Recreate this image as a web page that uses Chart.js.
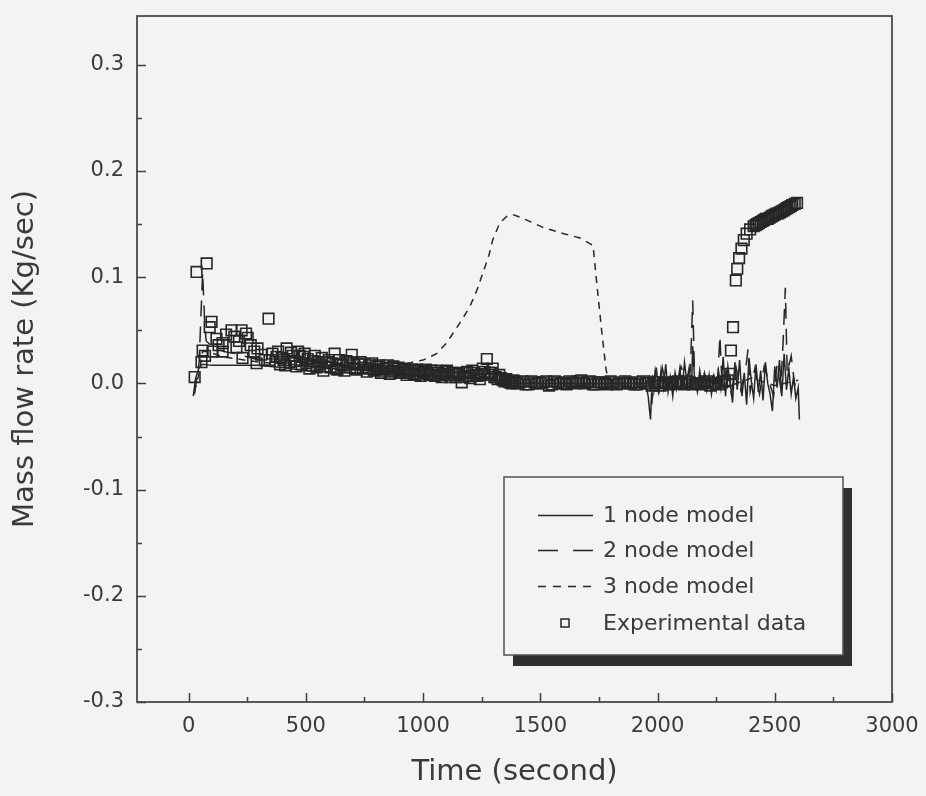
<!DOCTYPE html>
<html>
<head>
<meta charset="utf-8">
<title>Mass flow rate</title>
<script src="https://cdn.jsdelivr.net/npm/chart.js@4.4.1/dist/chart.umd.min.js"></script>
<style>
  html, body { margin: 0; padding: 0; background: #f3f3f1; }
  #wrap { width: 926px; height: 796px; }
</style>
</head>
<body>
<div id="wrap"><canvas id="c" width="926" height="796"></canvas></div>
<script>
// Axis ticks
const timeTicks = [0, 500, 1000, 1500, 2000, 2500, 3000];
const flowTicks = [-0.3, -0.2, -0.1, 0.0, 0.1, 0.2, 0.3];

// 1 node model
const oneNodeTime = [20, 30, 45, 60, 100, 200, 300, 350, 400, 500, 600, 700, 800, 900, 1000, 1100, 1200, 1300, 1350, 1400, 1600, 1800, 1950,
  1960, 1970, 1978, 1985, 1995, 2005, 2015, 2025, 2035, 2045, 2055, 2065, 2075, 2085, 2095, 2105, 2115, 2125, 2135, 2145, 2150, 2158,
  2170, 2180, 2190, 2200, 2210, 2220, 2230, 2240, 2250, 2260, 2270, 2280, 2290, 2300, 2310, 2320, 2330, 2340, 2350, 2360, 2370, 2380,
  2390, 2400, 2410, 2420, 2430, 2440, 2450, 2460, 2470, 2480, 2490, 2500, 2510, 2520, 2530, 2540, 2550, 2560, 2570, 2580, 2590, 2600, 2605];
const oneNodeFlow = [-0.012, 0.005, 0.015, 0.018, 0.017, 0.017, 0.017, 0.016, 0.015, 0.012, 0.011, 0.010, 0.009, 0.008, 0.007, 0.006, 0.005, 0.004, 0.001, 0.000, 0.000, 0.000, 0.000,
  -0.012, -0.034, 0.008, -0.006, 0.015, -0.010, 0.012, -0.004, 0.018, -0.008, 0.006, -0.012, 0.010, -0.002, 0.014, -0.006, 0.020, 0.002, 0.015, -0.004, 0.035, 0.004,
  -0.008, 0.012, -0.003, 0.009, -0.006, 0.008, -0.010, 0.005, -0.006, 0.012, -0.004, 0.025, -0.012, 0.016, 0.000, -0.018, 0.020, -0.006, 0.022, -0.012, 0.010, -0.020,
  0.024, 0.002, -0.014, 0.018, -0.008, 0.012, -0.016, 0.020, 0.000, -0.010, -0.026, 0.016, -0.004, 0.022, -0.012, 0.028, -0.006, 0.014, -0.010, 0.006, -0.014, -0.004, -0.034];

// 2 node model
const twoNodeTime = [25, 45, 60, 68, 75, 100, 150, 200, 300, 400, 500, 600, 700, 800, 900, 1000, 1100, 1200, 1300, 1400, 1500, 1700, 1950,
  1965, 1975, 1990, 2005, 2020, 2040, 2060, 2080, 2100, 2120, 2140, 2150, 2158, 2180, 2200, 2220, 2240, 2255, 2266, 2275, 2295, 2315,
  2335, 2355, 2375, 2386, 2395, 2415, 2435, 2455, 2475, 2495, 2510, 2525, 2535, 2545, 2553, 2570, 2585, 2600];
const twoNodeFlow = [-0.010, 0.020, 0.105, 0.060, 0.040, 0.035, 0.030, 0.028, 0.022, 0.020, 0.016, 0.014, 0.013, 0.011, 0.010, 0.008, 0.007, 0.006, 0.005, 0.002, 0.000, 0.000, 0.000,
  0.010, -0.020, 0.012, -0.008, 0.015, -0.005, 0.012, -0.006, 0.016, 0.004, 0.012, 0.078, 0.006, -0.004, 0.010, -0.006, 0.008, -0.004, 0.045, 0.000, 0.012, -0.010,
  0.015, -0.006, 0.012, 0.032, -0.008, 0.014, -0.010, 0.016, 0.002, -0.012, 0.018, -0.004, 0.036, 0.090, 0.010, 0.026, -0.002, 0.008];

// 3 node model
const threeNodeTime = [25, 45, 60, 80, 150, 300, 500, 700, 850, 956, 1000, 1058, 1100, 1127, 1160, 1199, 1230, 1255, 1280, 1297, 1327, 1360, 1383,
  1420, 1511, 1600, 1669, 1725, 1741, 1763, 1780, 1790, 1850, 1950, 2000, 2100, 2200, 2300, 2400, 2500, 2600];
const threeNodeFlow = [-0.008, 0.010, 0.030, 0.030, 0.025, 0.020, 0.017, 0.015, 0.014, 0.020, 0.022, 0.028, 0.038, 0.047, 0.058, 0.072, 0.088, 0.104, 0.120, 0.135, 0.151, 0.158, 0.159,
  0.156, 0.147, 0.141, 0.137, 0.130, 0.094, 0.047, 0.014, 0.003, 0.000, 0.000, 0.003, -0.002, 0.004, -0.003, 0.005, -0.002, 0.003];

// Experimental data
const expTime = [26, 34, 77, 98, 90, 55, 60, 70, 102, 119, 128, 145, 145, 160, 183, 195, 204, 215, 226, 230, 245, 252, 265, 280, 290, 294,
  310, 325, 341, 345, 358, 375, 390, 405, 418, 430, 445, 460, 474, 487, 503, 515, 530, 546, 560, 575, 590, 605, 623, 635, 650, 665,
  680, 696, 710, 725, 743, 760, 775, 790, 805, 820, 835, 850, 865, 888, 900, 915, 930, 945, 960, 975, 990, 1005, 1020, 1035, 1050,
  1065, 1080, 1095, 1110, 1125, 1140, 1155, 1165, 1180, 1195, 1210, 1225, 1242, 1255, 1272, 1285, 1297, 1310, 1325, 1340, 1355,
  1370, 1385, 1400, 1425, 1450, 1475, 1500, 1525, 1550, 1575, 1600, 1625, 1650, 1675, 1700, 1725, 1750, 1775, 1800, 1825, 1850,
  1875, 1900, 1925, 1950, 1975, 2000, 2025, 2050, 2075, 2100, 2125, 2150, 2175, 2200, 2225, 2250, 2275, 2300, 2310, 2313, 2322,
  2334, 2340, 2348, 2358, 2368, 2380, 2395, 2410, 2425, 2440, 2455, 2470, 2485, 2500, 2515, 2530, 2545, 2560, 2575, 2595,
  382, 397, 412, 437, 452, 467, 482, 495, 508, 522, 538, 553, 568, 583, 598, 613, 628, 643, 658, 673, 688, 703, 718, 733,
  752, 768, 783, 798, 812, 828, 843, 858, 873, 880, 895, 908, 922, 938, 952, 968, 982, 998, 1012, 1028, 1042, 1058, 1072,
  1088, 1102, 1118, 1132, 1148, 1172, 1188, 1202, 1218, 1232, 1248, 1262, 1278, 1292, 1304, 1318, 1332, 1348, 1362, 1378, 1392,
  1412, 1437, 1462, 1487, 1512, 1537, 1562, 1587, 1612, 1637, 1662, 1687, 1712, 1737, 1762, 1787, 1812, 1837, 1862, 1887,
  1912, 1937, 1962, 1987, 2012, 2037, 2062, 2087, 2112, 2137, 2162, 2187, 2212, 2237, 2262, 2288,
  2418, 2432, 2448, 2462, 2478, 2492, 2508, 2522, 2538, 2552, 2568, 2585];
const expFlow = [0.006, 0.105, 0.113, 0.058, 0.053, 0.020, 0.031, 0.026, 0.030, 0.042, 0.036, 0.038, 0.030, 0.046, 0.050, 0.044, 0.034, 0.040, 0.050, 0.024, 0.047, 0.043, 0.036, 0.030, 0.019, 0.033,
  0.027, 0.022, 0.061, 0.022, 0.028, 0.025, 0.018, 0.022, 0.033, 0.020, 0.026, 0.016, 0.026, 0.025, 0.019, 0.014, 0.021, 0.015, 0.018, 0.012, 0.020, 0.015, 0.028, 0.013, 0.018, 0.012,
  0.020, 0.027, 0.014, 0.018, 0.015, 0.011, 0.017, 0.012, 0.016, 0.010, 0.014, 0.017, 0.011, 0.014, 0.010, 0.013, 0.008, 0.012, 0.009, 0.013, 0.007, 0.011, 0.009, 0.012, 0.007,
  0.010, 0.006, 0.011, 0.008, 0.010, 0.006, 0.009, 0.001, 0.010, 0.007, 0.012, 0.008, 0.004, 0.014, 0.023, 0.010, 0.014, 0.006, 0.008, 0.003, 0.004,
  0.001, 0.003, 0.000, 0.002, -0.001, 0.001, 0.000, 0.002, -0.001, 0.001, 0.000, 0.002, 0.000, 0.003, 0.001, -0.001, 0.001, 0.000, 0.002, -0.001, 0.000,
  0.001, -0.001, 0.001, 0.000, -0.002, 0.001, 0.000, -0.001, 0.001, 0.000, 0.002, -0.001, 0.000, 0.001, -0.002, 0.000, 0.001, 0.003, 0.009, 0.031, 0.053,
  0.097, 0.108, 0.118, 0.127, 0.135, 0.141, 0.145, 0.148, 0.150, 0.152, 0.154, 0.155, 0.157, 0.159, 0.160, 0.162, 0.164, 0.166, 0.168, 0.170,
  0.030, 0.024, 0.017, 0.029, 0.021, 0.030, 0.018, 0.028, 0.023, 0.017, 0.026, 0.020, 0.024, 0.016, 0.022, 0.019, 0.014, 0.022, 0.017, 0.021, 0.015, 0.019, 0.013, 0.020,
  0.018, 0.014, 0.019, 0.013, 0.017, 0.012, 0.015, 0.009, 0.016, 0.012, 0.015, 0.011, 0.014, 0.010, 0.013, 0.008, 0.012, 0.010, 0.013, 0.008, 0.010, 0.012, 0.008,
  0.009, 0.012, 0.006, 0.010, 0.008, 0.006, 0.011, 0.005, 0.010, 0.007, 0.009, 0.011, 0.008, 0.010, 0.006, 0.004, 0.005, 0.002, 0.002, 0.000, 0.002,
  0.001, -0.001, 0.002, 0.000, 0.001, -0.002, 0.002, 0.000, -0.001, 0.001, 0.002, 0.000, 0.002, -0.001, 0.001, -0.001, 0.001, 0.000, 0.002, 0.000,
  -0.001, 0.002, 0.000, 0.001, -0.002, 0.001, 0.000, 0.002, -0.001, 0.001, 0.000, -0.001, 0.002, 0.000, -0.001, 0.002,
  0.149, 0.151, 0.153, 0.155, 0.156, 0.158, 0.160, 0.161, 0.163, 0.165, 0.167, 0.169];

const INK = '#262626';
const TEXT = '#3a3a3a';
const PAPER = '#f3f3f1';
const FONT = '"DejaVu Sans", "Liberation Sans", Arial, sans-serif';

const pairs = (xs, ys) => xs.map((x, i) => ({ x, y: ys[i] }));

// Frame with inward ticks, plus the shadowed legend box
const frameAndLegend = {
  id: 'frameAndLegend',
  afterDatasetsDraw(chart) {
    const { ctx, chartArea: a, scales: { x, y } } = chart;
    ctx.save();
    ctx.strokeStyle = '#404040';
    ctx.lineWidth = 1.7;
    ctx.strokeRect(a.left, a.top, a.right - a.left, a.bottom - a.top);

    ctx.lineWidth = 1.5;
    ctx.beginPath();
    for (let k = 0; k <= 12; k++) {
      const px = Math.round(x.getPixelForValue(k * 250)) + 0.5;
      const len = k % 2 === 0 ? 9 : 5;
      ctx.moveTo(px, a.bottom);
      ctx.lineTo(px, a.bottom - len);
    }
    for (let k = -6; k <= 6; k++) {
      const py = Math.round(y.getPixelForValue(k * 0.05)) + 0.5;
      const len = k % 2 === 0 ? 9 : 5;
      ctx.moveTo(a.left, py);
      ctx.lineTo(a.left + len, py);
    }
    ctx.stroke();

    // legend box with drop shadow
    const bx = a.left + 367, by = a.top + 461, bw = 339, bh = 178;
    ctx.fillStyle = '#303030';
    ctx.fillRect(bx + 9, by + 11, bw, bh);
    ctx.fillStyle = PAPER;
    ctx.fillRect(bx, by, bw, bh);
    ctx.strokeStyle = '#505050';
    ctx.lineWidth = 1.5;
    ctx.strokeRect(bx, by, bw, bh);

    const rows = [38, 73, 109, 146];
    const sx0 = bx + 34, sx1 = bx + 89, tx = bx + 99;
    ctx.font = '22px ' + FONT;
    ctx.textBaseline = 'middle';
    ctx.textAlign = 'left';
    chart.data.datasets.forEach((ds, i) => {
      const ry = by + rows[i];
      ctx.strokeStyle = INK;
      ctx.lineWidth = 1.5;
      if (ds.showLine === false) {
        ctx.setLineDash([]);
        ctx.strokeRect(sx0 + 23, ry - 4, 8, 8);
      } else {
        ctx.setLineDash(ds.legendDash || []);
        ctx.beginPath();
        ctx.moveTo(sx0, ry + 0.5);
        ctx.lineTo(sx1, ry + 0.5);
        ctx.stroke();
        ctx.setLineDash([]);
      }
      ctx.fillStyle = TEXT;
      ctx.fillText(ds.label, tx, ry + 1);
    });
    ctx.restore();
  }
};

const lineDs = (label, xs, ys, dash, legendDash) => ({
  label,
  data: pairs(xs, ys),
  borderColor: INK,
  borderWidth: 1.5,
  borderDash: dash,
  legendDash,
  pointRadius: 0,
  fill: false,
  tension: 0
});

new Chart(document.getElementById('c'), {
  type: 'line',
  data: {
    datasets: [
      lineDs('1 node model', oneNodeTime, oneNodeFlow, [], []),
      lineDs('2 node model', twoNodeTime, twoNodeFlow, [16, 10], [20, 15]),
      lineDs('3 node model', threeNodeTime, threeNodeFlow, [7, 6], [8, 7]),
      {
        label: 'Experimental data',
        data: pairs(expTime, expFlow),
        showLine: false,
        pointStyle: 'rect',
        pointRadius: 7.5,
        pointBorderWidth: 1.6,
        borderColor: INK,
        backgroundColor: 'rgba(0,0,0,0)',
        pointBackgroundColor: 'rgba(0,0,0,0)'
      }
    ]
  },
  options: {
    responsive: false,
    animation: false,
    devicePixelRatio: 1,
    layout: { padding: { left: 6, right: 34, top: 16, bottom: 4 } },
    plugins: { legend: { display: false }, tooltip: { enabled: false } },
    scales: {
      x: {
        type: 'linear',
        min: -220,
        max: 3000,
        grid: { display: false, drawTicks: false },
        border: { display: false },
        afterBuildTicks: s => { s.ticks = timeTicks.map(v => ({ value: v })); },
        afterFit: s => { s.height = 90; s.paddingLeft = 0; s.paddingRight = 0; },
        ticks: {
          padding: 12,
          color: TEXT,
          maxRotation: 0,
          font: { family: FONT, size: 21 },
          callback: v => String(v)
        },
        title: {
          display: true,
          text: 'Time (second)',
          color: TEXT,
          font: { family: FONT, size: 29 },
          padding: { top: 0, bottom: 2 }
        }
      },
      y: {
        type: 'linear',
        min: -0.3,
        max: 0.346,
        grid: { display: false, drawTicks: false },
        border: { display: false },
        afterBuildTicks: s => { s.ticks = flowTicks.map(v => ({ value: v })); },
        afterFit: s => { s.width = 131; s.paddingTop = 0; s.paddingBottom = 0; },
        ticks: {
          padding: 13,
          color: TEXT,
          font: { family: FONT, size: 21 },
          callback: v => Number(v).toFixed(1)
        },
        title: {
          display: true,
          text: 'Mass flow rate (Kg/sec)',
          color: TEXT,
          font: { family: FONT, size: 29 },
          padding: { top: 2, bottom: 0 }
        }
      }
    }
  },
  plugins: [frameAndLegend]
});
</script>
</body>
</html>
